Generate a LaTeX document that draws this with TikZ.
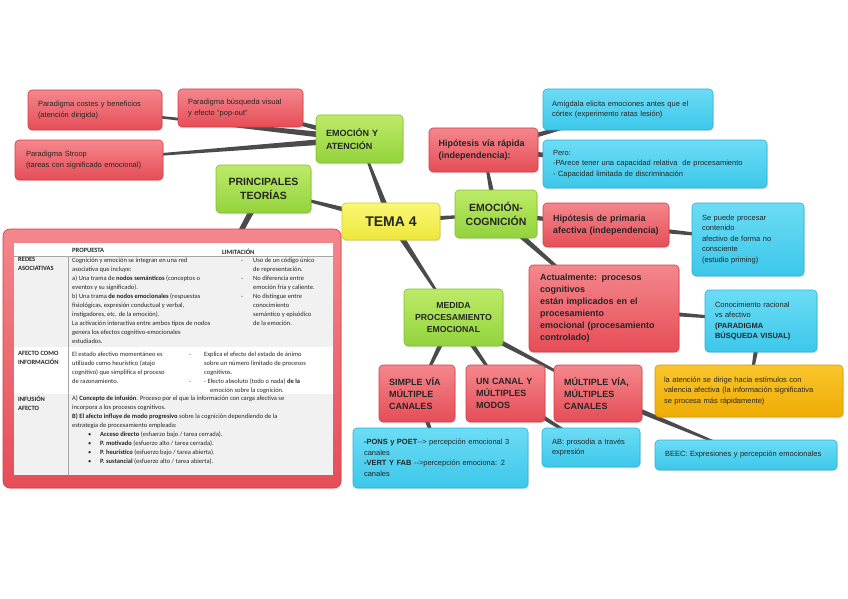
\documentclass[tikz,border=0pt]{standalone}
\usepackage{fontspec}
\setmainfont{Liberation Sans}
\newfontfamily\tablafont{Carlito}
\usetikzlibrary{calc,backgrounds,shadows}

\definecolor{rojoA}{HTML}{F4878C}
\definecolor{rojoB}{HTML}{E64D57}
\definecolor{rojoL}{HTML}{D43D48}
\definecolor{verdeA}{HTML}{BDEB68}
\definecolor{verdeB}{HTML}{93D33C}
\definecolor{verdeL}{HTML}{7FBF2C}
\definecolor{azulA}{HTML}{6CDCF5}
\definecolor{azulB}{HTML}{3CC7EA}
\definecolor{azulL}{HTML}{2AB3D8}
\definecolor{amaA}{HTML}{FAF774}
\definecolor{amaB}{HTML}{EDE73C}
\definecolor{amaL}{HTML}{D2CB2A}
\definecolor{naraA}{HTML}{F9C52C}
\definecolor{naraB}{HTML}{EFAC04}
\definecolor{naraL}{HTML}{D89900}
\definecolor{colrama}{HTML}{4B4B4B}
\definecolor{texto}{HTML}{262626}
\definecolor{gristabla}{HTML}{F1F1F1}

\newcommand{\letradet}{\fontsize{7.5}{10.5}\selectfont}
\newcommand{\letratit}{\bfseries\fontsize{9}{12}\selectfont}
\newcommand{\letraverde}{\bfseries\fontsize{10.5}{13.3}\selectfont}
\newcommand{\letratabla}{\tablafont\fontsize{6.5}{9}\selectfont}

% rama que se estrecha del nodo padre al hijo
\newcommand{\rama}[2]{%
  \fill[colrama] ($(#1)!3.2pt!90:(#2)$) -- ($(#1)!3.2pt!-90:(#2)$)
    -- ($(#2)!0.6pt!90:(#1)$) -- ($(#2)!0.6pt!-90:(#1)$) -- cycle;}

\tikzset{
  caja/.style={rounded corners=4pt, inner sep=0pt, align=left, text=texto, line width=0.6pt,
    drop shadow={opacity=0.18, shadow xshift=0.8pt, shadow yshift=-1.4pt}},
  roja/.style={caja, top color=rojoA, bottom color=rojoB, draw=rojoL},
  verde/.style={caja, top color=verdeA, bottom color=verdeB, draw=verdeL},
  azul/.style={caja, top color=azulA, bottom color=azulB, draw=azulL},
  amarilla/.style={caja, top color=amaA, bottom color=amaB, draw=amaL, align=center},
  naranja/.style={caja, top color=naraA, bottom color=naraB, draw=naraL},
  celda/.style={anchor=north west, inner sep=0pt, align=left, font=\letratabla, text=black!85},
  guion/.style={anchor=base west, inner sep=0pt, font=\letratabla, text=black!85},
}

\begin{document}
\begin{tikzpicture}[x=1pt, y=-1pt]
\useasboundingbox (0,0) rectangle (848,599);

% Nodo central
\node[amarilla, font=\bfseries\fontsize{14}{16}\selectfont, minimum width=98, minimum height=37] (tema) at (391,221.5) {TEMA 4};

% Ramas principales
\node[verde, font=\bfseries\fontsize{9}{13.3}\selectfont, minimum width=87, minimum height=48, text width=67] (emoaten) at (359.5,139) {EMOCIÓN Y\\ATENCIÓN};
\node[verde, align=center, font=\letraverde, minimum width=95, minimum height=48, text width=82] (teorias) at (263.5,189) {PRINCIPALES\\TEORÍAS};
\node[verde, align=center, font=\letraverde, minimum width=82, minimum height=48, text width=72] (emocog) at (496,214) {EMOCIÓN-\\COGNICIÓN};
\node[verde, align=center, font=\bfseries\fontsize{8.7}{11.7}\selectfont, minimum width=99, minimum height=57, text width=88] (medida) at (453.5,317.5) {MEDIDA\\PROCESAMIENTO\\EMOCIONAL};

% Emoción y atención
\node[roja, font=\letradet, minimum width=134, minimum height=40, text width=114] (costes) at (95,110) {Paradigma costes y beneficios\\ (atención dirigida)};
\node[roja, font=\letradet, minimum width=125, minimum height=38, text width=105] (busqueda) at (240.5,108) {Paradigma búsqueda visual\\y efecto "pop-out"};
\node[roja, font=\letradet, minimum width=148, minimum height=40, text width=126] (stroop) at (89,160) {Paradigma Stroop\\(tareas con significado emocional)};

% Emoción-cognición
\node[roja, font=\letratit, minimum width=109, minimum height=44, text width=90] (rapida) at (483.5,150) {Hipótesis vía rápida\\(independencia):};
\node[azul, font=\letradet, minimum width=170, minimum height=41, text width=152] (amigdala) at (628,109.5) {Amígdala elicita emociones antes que el\\córtex (experimento ratas lesión)};
\node[azul, font=\letradet, minimum width=224, minimum height=48, text width=204] (pero) at (655,164) {Pero:\\-PArece tener una capacidad relativa\ \ de procesamiento\\- Capacidad limitada de discriminación};
\node[roja, font=\letratit, minimum width=126, minimum height=44, text width=106] (primaria) at (606,225) {Hipótesis de primaria\\afectiva (independencia)};
\node[azul, font=\letradet, minimum width=112, minimum height=73, text width=92] (sepuede) at (748,239.5) {Se puede procesar\\contenido\\afectivo de forma no\\consciente\\(estudio priming)};
\node[roja, font=\letratit, minimum width=150, minimum height=87, text width=128] (actual) at (604,308.5) {Actualmente: procesos\\cognitivos\\están implicados en el\\procesamiento\\emocional (procesamiento\\controlado)};
\node[azul, font=\letradet, minimum width=112, minimum height=62, text width=92] (conoc) at (761,321) {Conocimiento racional\\vs afectivo\\\textbf{(PARADIGMA}\\\textbf{BÚSQUEDA VISUAL)}};
\node[naranja, font=\letradet, minimum width=188, minimum height=52, text width=170] (valencia) at (749,391) {la atención se dirige hacia estímulos con\\valencia afectiva (la información significativa\\se procesa más rápidamente)};

% Medida procesamiento emocional
\node[roja, font=\letratit, minimum width=76, minimum height=57, text width=56] (simple) at (417,393.5) {SIMPLE VÍA\\MÚLTIPLE\\CANALES};
\node[roja, font=\letratit, minimum width=79, minimum height=57, text width=59] (uncanal) at (505.5,393.5) {UN CANAL Y\\MÚLTIPLES\\MODOS};
\node[roja, font=\letratit, minimum width=88, minimum height=57, text width=68] (multiple) at (598,393.5) {MÚLTIPLE VÍA,\\MÚLTIPLES\\CANALES};
\node[azul, font=\letradet, minimum width=175, minimum height=60, text width=153] (pons) at (440.5,458) {\textbf{-PONS y POET}-{}-> percepción emocional 3\\canales\\\textbf{-VERT Y FAB} -{}->percepción emociona: 2\\canales};
\node[azul, font=\letradet, minimum width=98, minimum height=39, text width=78] (ab) at (591,447.5) {AB: prosodia a través\\ expresión};
\node[azul, font=\letradet, minimum width=182, minimum height=30, text width=162] (beec) at (746,455) {BEEC: Expresiones y percepción emocionales};

% Tabla de teorías
\node[roja, rounded corners=7pt, minimum width=338, minimum height=259] (tabla) at (172,358.5) {};
\fill[white] (14,243) rectangle (333,475);
\fill[gristabla] (14,256) rectangle (333,347);
\fill[gristabla] (14,394) rectangle (333,475);
\draw[gray!70, line width=0.4pt] (14,256) -- (333,256);
\draw[gray!70, line width=0.4pt] (68,256) -- (68,475);

\node[celda, font=\letratabla\bfseries] (hprop) at (72,248.5) {PROPUESTA};
\node[celda, font=\letratabla\bfseries] (hlim) at (222,248.5) {LIMITACIÓN};

\node[celda, font=\letratabla\bfseries] (redes) at (18,257.5) {REDES\\ASOCIATIVAS};
\node[celda] (redesprop) at (72,257.5) {Cognición y emoción se integran en una red\\asociativa que incluye:\\ a) Una trama de \textbf{nodos semánticos} (conceptos o\\eventos y su significado).\\b) Una trama \textbf{de nodos emocionales} (respuestas\\fisiológicas, expresión conductual y verbal,\\instigadores, etc. de la emoción).\\La activación interactiva entre ambos tipos de nodos\\genera los efectos cognitivo-emocionales\\estudiados.};
\foreach \y in {262.3,280.3,298.3}
  \node[guion] at (241,\y) {-};
\node[celda] (redeslim) at (253,257.5) {Uso de un código único\\de representación.\\No diferencia entre\\emoción fría y caliente.\\No distingue entre\\conocimiento\\semántico y episódico\\de la emoción.};

\node[celda, font=\letratabla\bfseries] (afecto) at (18,351.5) {AFECTO COMO\\INFORMACIÓN};
\node[celda] (afectoprop) at (72,351.5) {El estado afectivo momentáneo es\\utilizado como heurístico (atajo\\cognitivo) que simplifica el proceso\\de razonamiento.};
\foreach \y in {356.3,383.3}
  \node[guion] at (189,\y) {-};
\node[celda] (afectolim) at (204,351.5) {Explica el efecto del estado de ánimo\\sobre un número limitado de procesos\\cognitivos.\\- Efecto absoluto (todo o nada) \textbf{de la}\\\hspace*{6pt}emoción sobre la cognición.};

\node[celda, font=\letratabla\bfseries] (infusion) at (18,395.5) {INFUSIÓN\\AFECTO};
\node[celda] (infusionprop) at (72,395.5) {A) \textbf{Concepto de infusión}. Proceso por el que la información con carga afectiva se\\incorpora a los procesos cognitivos.\\\textbf{B) El afecto influye de modo progresivo} sobre la cognición dependiendo de la\\estrategia de procesamiento empleada:};
\foreach \y in {436.4,445.4,454.4,463.4}
  \node[guion] at (88,\y) {•};
\node[celda] (infusionlista) at (100,431.5) {\textbf{Acceso directo} (esfuerzo bajo / tarea cerrada).\\\textbf{P. motivado} (esfuerzo alto / tarea cerrada).\\\textbf{P. heurístico} (esfuerzo bajo / tarea abierta).\\\textbf{P. sustancial} (esfuerzo alto / tarea abierta).};

% Ramas
\begin{scope}[on background layer]
  \rama{tema}{emoaten}
  \rama{tema}{teorias}
  \rama{tema}{emocog}
  \rama{tema}{medida}
  \rama{emoaten}{costes}
  \rama{emoaten}{busqueda}
  \rama{emoaten}{stroop}
  \rama{teorias}{tabla}
  \rama{emocog}{rapida}
  \rama{rapida}{amigdala}
  \rama{rapida}{pero}
  \rama{emocog}{primaria}
  \rama{primaria}{sepuede}
  \rama{emocog}{actual}
  \rama{actual}{conoc}
  \rama{conoc}{valencia}
  \rama{medida}{simple}
  \rama{medida}{uncanal}
  \rama{medida}{multiple}
  \rama{simple}{pons}
  \rama{uncanal}{ab}
  \rama{multiple}{beec}
\end{scope}
\end{tikzpicture}
\end{document}
